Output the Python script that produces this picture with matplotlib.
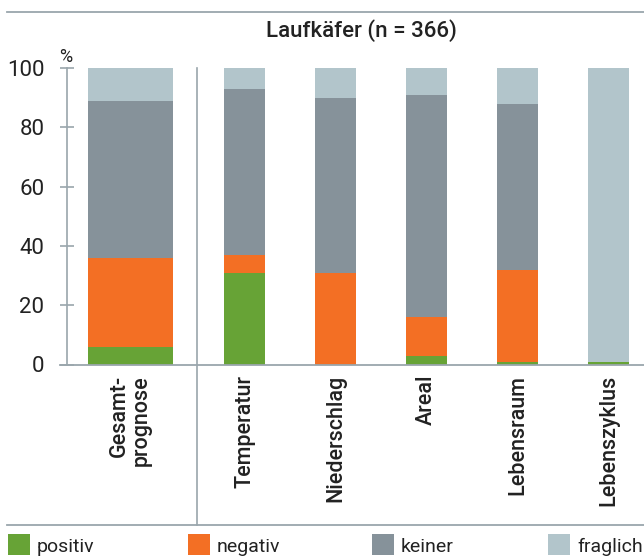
import matplotlib
matplotlib.use("Agg")
import matplotlib.pyplot as plt
from matplotlib.lines import Line2D
from matplotlib.patches import Rectangle

categories = ["Gesamt-\nprognose", "Temperatur", "Niederschlag", "Areal", "Lebensraum", "Lebenszyklus"]
positiv = [6, 31, 0, 3, 1, 1]
negativ = [30, 6, 31, 13, 31, 0]
keiner = [53, 56, 59, 75, 56, 0]
fraglich = [11, 7, 10, 9, 12, 99]
series_names = ["positiv", "negativ", "keiner", "fraglich"]
yticks = [0, 20, 40, 60, 80, 100]
title = "Laufkäfer (n = 366)"

colors = ["#67a336", "#f36f24", "#86929a", "#b2c5cb"]
line_col = "#9aa6ac"
text_col = "#222222"

W, H = 644, 559
plt.rcParams['font.family'] = ['Roboto', 'DejaVu Sans']
fig = plt.figure(figsize=(W / 100, H / 100), dpi=100)


def fx(px):
    return px / W


def fy(py):
    return 1 - py / H


ax = fig.add_axes([fx(66.7), fy(364.5), 1 - fx(66.7), fy(68) - fy(364.5)])

positions = [0, 1.255, 2.255, 3.255, 4.255, 5.255]
widths = [0.937, 0.45, 0.45, 0.45, 0.45, 0.45]

bottom = [0] * len(categories)
for vals, col in zip([positiv, negativ, keiner, fraglich], colors):
    ax.bar(positions, vals, width=widths, bottom=bottom, color=col, linewidth=0)
    bottom = [b + v for b, v in zip(bottom, vals)]

ax.set_xlim(-0.699, 5.645)
ax.set_ylim(0, 100)
for s in ["top", "right", "bottom"]:
    ax.spines[s].set_visible(False)
ax.spines["left"].set_color(line_col)
ax.spines["left"].set_linewidth(1.2)
ax.set_yticks(yticks)
ax.set_yticklabels([str(t) for t in yticks], fontsize=16, color=text_col)
ax.tick_params(axis="y", direction="inout", length=10, width=1.2, color=line_col, pad=11)
ax.set_xticks([])

# category labels
for p, c in zip(positions, categories):
    ax.text(p, -3.5, c, rotation=90, ha="center", va="top", fontsize=15.5,
            fontweight="medium", color=text_col, linespacing=1.05,
            multialignment="right")

# percent sign
fig.text(fx(65.5), fy(57), "%", fontsize=13, color=text_col, ha="center", va="center")

# title
fig.text(fx(361.5), fy(30.5), title, fontsize=16, fontweight="medium", color=text_col,
         ha="center", va="center")

# frame lines
fig.add_artist(Line2D([fx(7), 1], [fy(12), fy(12)], color=line_col, lw=1.3))
fig.add_artist(Line2D([fx(7), 1], [fy(525), fy(525)], color=line_col, lw=1.3))
fig.add_artist(Line2D([fx(60), 1], [fy(364.5), fy(364.5)], color=line_col, lw=1.3))
fig.add_artist(Line2D([fx(197.3), fx(197.3)], [fy(68), fy(525)], color=line_col, lw=1.2))

# legend
leg_x = [8, 188, 372, 548]
for lx, name, col in zip(leg_x, series_names, colors):
    fig.add_artist(Rectangle((fx(lx), fy(555)), fx(22), fy(534) - fy(555),
                             color=col, transform=fig.transFigure, lw=0))
    fig.text(fx(lx + 29), fy(547), name, fontsize=14, color=text_col,
             ha="left", va="center")

fig.savefig("out.png", dpi=100)
